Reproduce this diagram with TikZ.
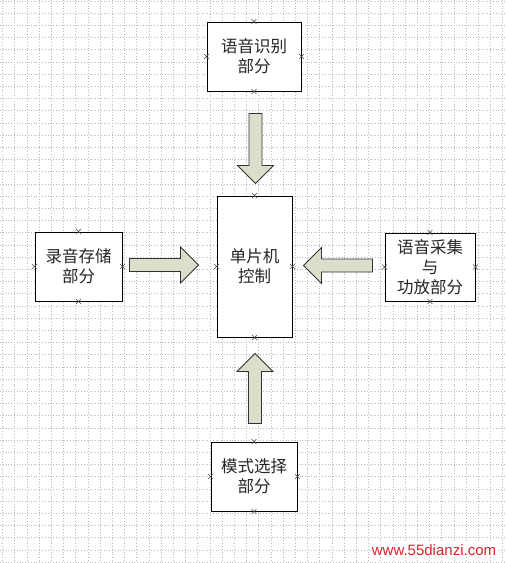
\documentclass[tikz,border=0pt]{standalone}
\usepackage{fontspec}
\setmainfont{Liberation Sans}
\newfontfamily\cjk{Noto Sans CJK SC}
\usepackage{tikz}
\usetikzlibrary{calc}
\usepackage{xcolor}
\definecolor{arrowfill}{RGB}{220,222,204}
\definecolor{gridgray}{RGB}{185,185,185}
\definecolor{markred}{RGB}{222,32,42}

\newcommand{\blockarrow}[2]{%
  \draw[blockarr] let \p1=#1, \p2=#2, \n1={atan2(\y2-\y1,\x2-\x1)}, \n2={veclen(\x2-\x1,\y2-\y1)} in
    [shift={(\p1)},rotate=\n1] (0pt,-6.5pt) -- ({\n2-18pt},-6.5pt) -- ({\n2-18pt},-18pt)
    -- ({\n2+0pt},0pt) -- ({\n2-18pt},18pt) -- ({\n2-18pt},6.5pt) -- (0pt,6.5pt) -- cycle;}

\begin{document}
\begin{tikzpicture}[x=1pt,y=-1pt,
  box/.style={draw=black,line width=0.9pt,fill=white,align=center,inner sep=0pt,
    text=black!85,font=\cjk\fontsize{16.5}{20}\selectfont},
  blockarr/.style={draw=black!80,line width=0.8pt,fill=arrowfill,line join=miter},
  gridline/.style={gridgray,line width=0.6pt,dash pattern=on 1pt off 1.8pt},
  xmark/.style={black!70,line width=0.5pt}]
\useasboundingbox (0,0) rectangle (506,563);
\fill[white] (0,0) rectangle (506,563);
\foreach \i in {0,...,41} \draw[gridline] ({2.5+12.2*\i},0) -- ({2.5+12.2*\i},563);
\foreach \j in {0,...,46} \draw[gridline] (0,{0.8+12.2*\j}) -- (506,{0.8+12.2*\j});

\node[box,minimum width=94pt,minimum height=69pt] (Rec) at (254,56.5) {语音识别\\部分};
\node[box,minimum width=87pt,minimum height=69pt] (Sto) at (78.5,266.5) {录音存储\\部分};
\node[box,minimum width=75pt,minimum height=141pt] (MCU) at (254.5,266.5) {单片机\\控制};
\node[box,minimum width=90pt,minimum height=68pt] (Cap) at (430,267) {语音采集\\与\\功放部分};
\node[box,minimum width=86pt,minimum height=69pt] (Mod) at (254,476.5) {模式选择\\部分};

\foreach \n in {Rec,Sto,MCU,Cap,Mod}
  \foreach \a in {north,south,east,west}
    \draw[xmark] (\n.\a) +(-2.5,-2.5) -- +(2.5,2.5) +(-2.5,2.5) -- +(2.5,-2.5);

\blockarrow{($(Rec.south)+(1.5,22)$)}{($(MCU.north)+(1,-12)$)}
\blockarrow{($(Sto.east)+(7,-1.5)$)}{($(MCU.west)+(-18,-1.5)$)}
\blockarrow{($(Cap.west)+(-12,-1.5)$)}{($(MCU.east)+(11,-1)$)}
\blockarrow{($(Mod.north)+(1,-18)$)}{($(MCU.south)+(0.5,16)$)}

\node[font=\fontsize{15}{15}\selectfont,text=markred,fill=white,inner sep=1pt] (web) at (434,550) {www.55dianzi.com};
\end{tikzpicture}
\end{document}
